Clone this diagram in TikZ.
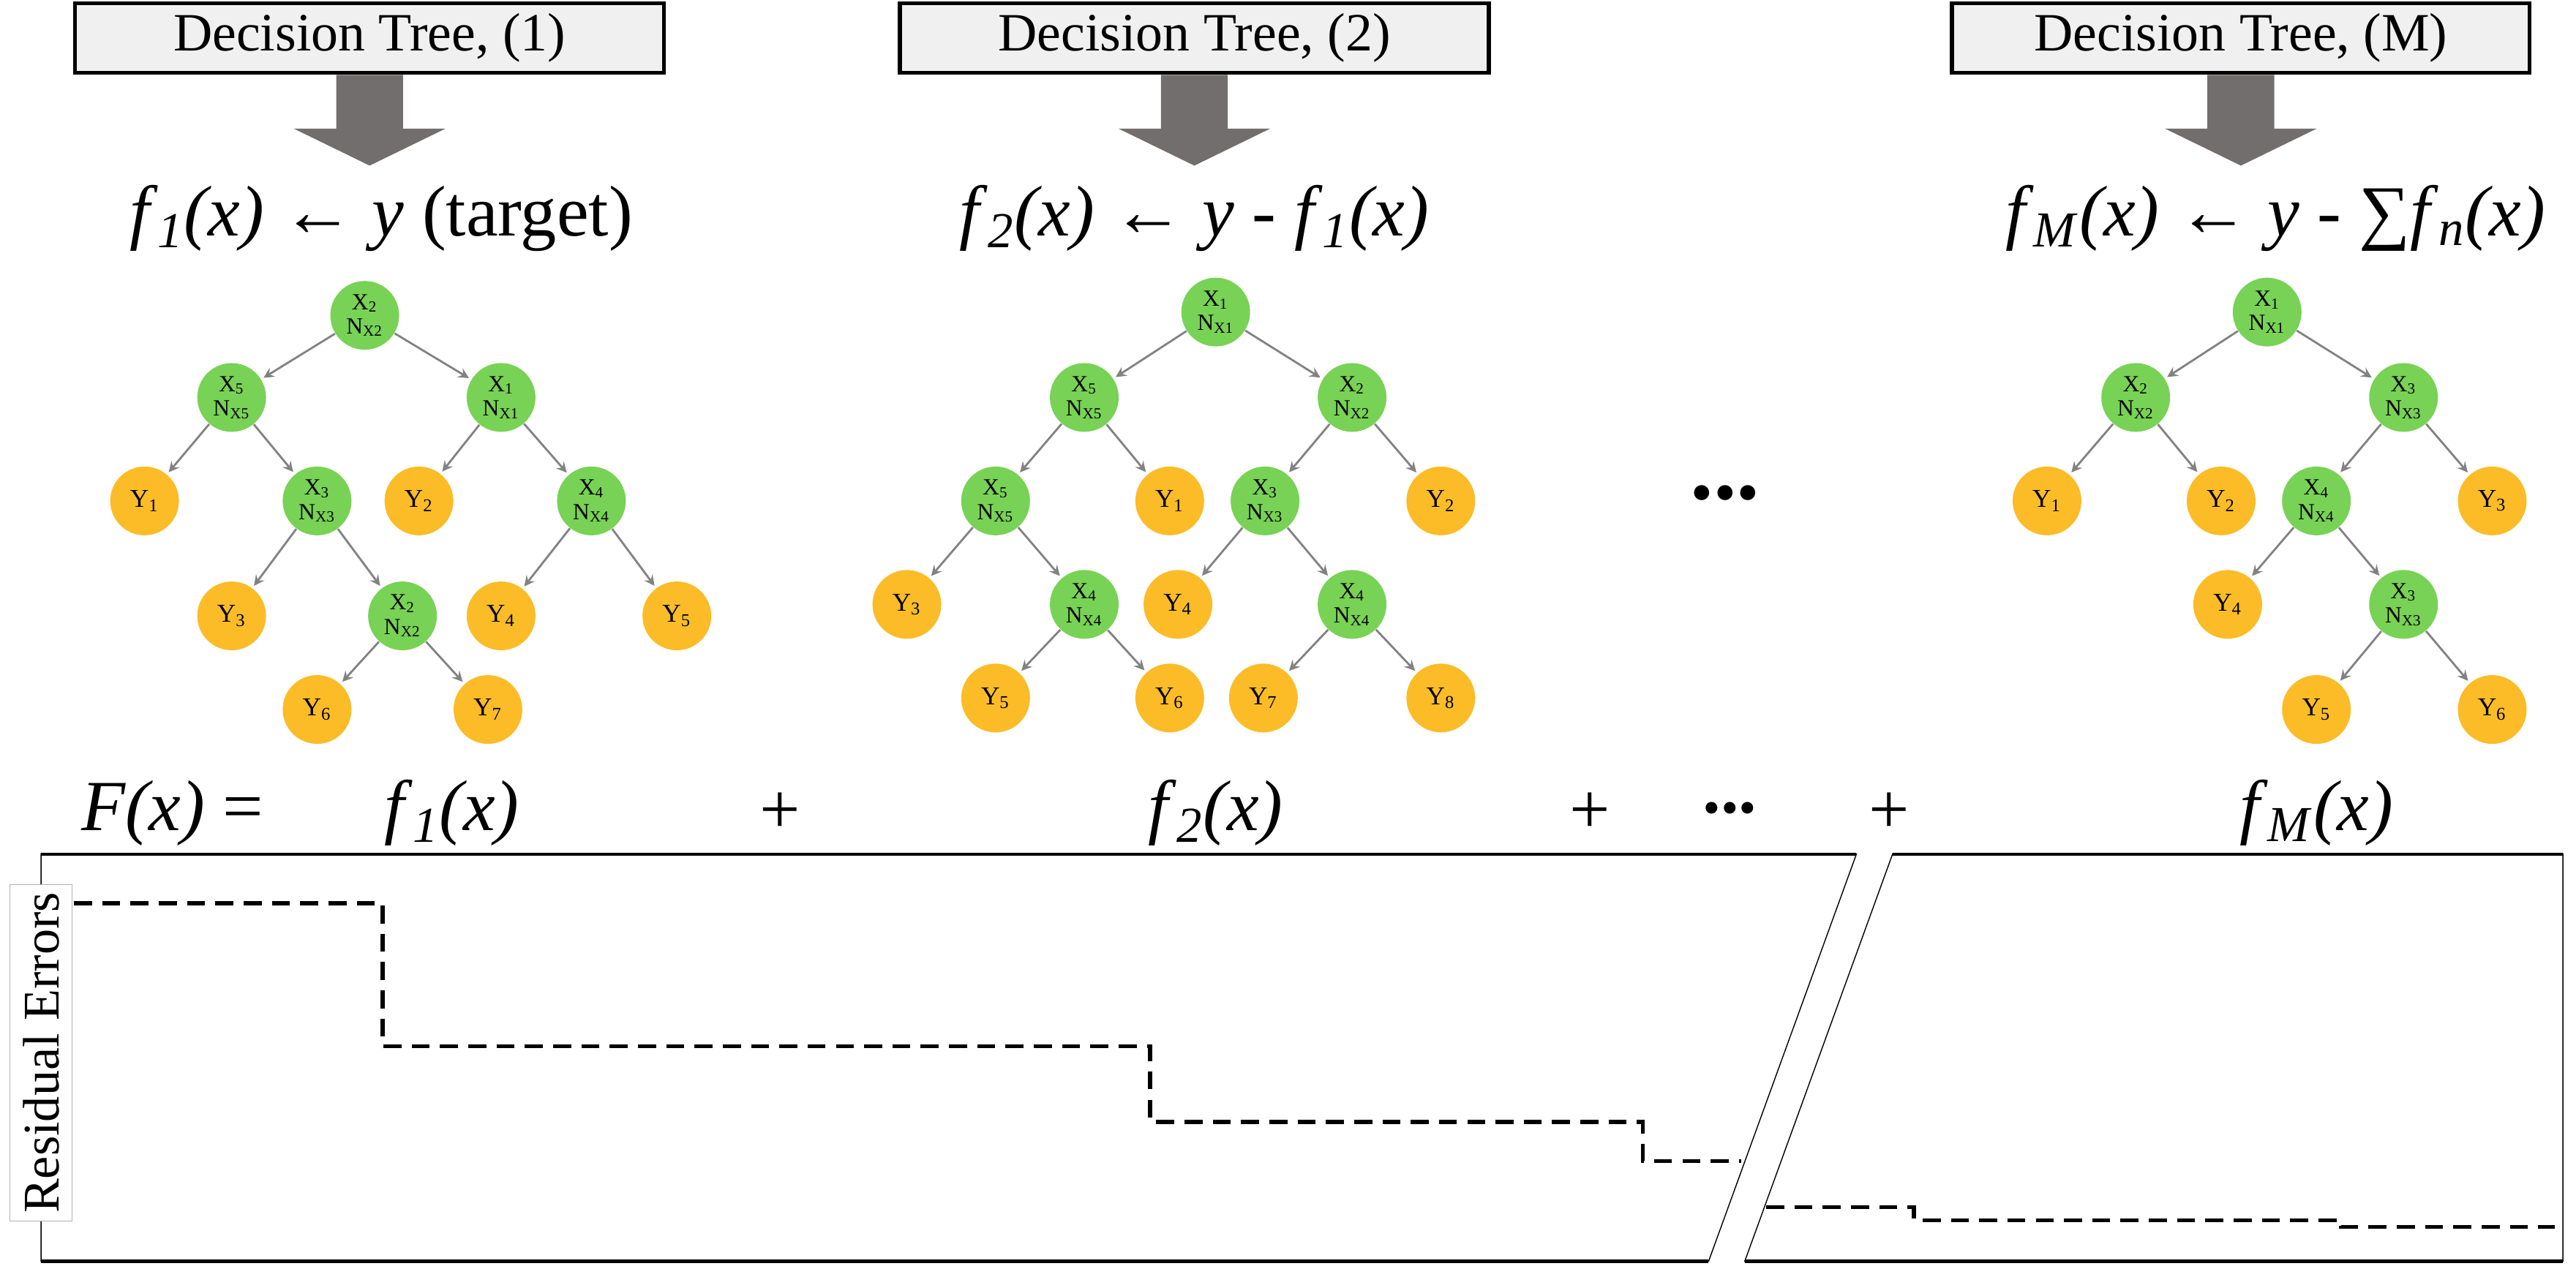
\documentclass[tikz,border=0pt]{standalone}
\usepackage{fontspec}
\setmainfont{Liberation Serif}
\usepackage{tikz}
\usetikzlibrary{shapes,arrows,positioning,calc,backgrounds,fit}
\definecolor{leafgreen}{RGB}{120,210,85}
\definecolor{leaforange}{RGB}{252,188,40}
\definecolor{edgegray}{RGB}{130,130,130}
\definecolor{arrowgray}{RGB}{115,110,110}
\definecolor{boxgray}{RGB}{240,240,240}
\newcommand{\fx}[1]{\textit{f}\textsubscript{\textit{#1}}\textit{(x)}}

\begin{document}
\begin{tikzpicture}[
    x=0.022455cm, y=-0.022455cm,
    split/.style={circle, fill=leafgreen, minimum size=0.94cm, inner sep=0pt, align=center, font=\fontsize{9}{9.5}\selectfont},
    leaf/.style={circle, fill=leaforange, minimum size=0.94cm, inner sep=0pt, font=\fontsize{10}{11}\selectfont},
    edge/.style={->, >=stealth, thick, color=edgegray, shorten >=1pt},
    treebox/.style={rectangle, draw=black, line width=1.5pt, fill=boxgray, minimum width=8.05cm, minimum height=0.95cm, font=\fontsize{21}{25}\selectfont},
    formula/.style={font=\fontsize{28}{34}\selectfont},
    bigarrow/.style={single arrow, draw=none, fill=arrowgray, shape border rotate=270, inner sep=0.45cm, single arrow head extend=0.58cm, single arrow tip angle=128, minimum height=1.24cm},
    residual/.style={dash pattern=on 7pt off 4pt, line width=1.6pt}
]
\useasboundingbox (0,0) rectangle (1568,777.5);

% Decision tree boxes
\node[treebox] (dt1) at (225,23) {Decision Tree, (1)};
\node[treebox] (dt2) at (727,23) {Decision Tree, (2)};
\node[treebox, minimum width=7.9cm] (dtm) at (1364,23) {Decision Tree, (M)};

% Block arrows
\foreach \b in {dt1, dt2, dtm}
    \node[bigarrow, below=0pt of \b.south, anchor=tail] (arr\b) {};

% Update rules
\node[formula] (rule1) at (232,133) {\fx{1} ← \textit{y} (target)};
\node[formula] (rule2) at (727,133) {\fx{2} ← \textit{y} - \fx{1}};
\node[formula] (rulem) at (1385,133) {\fx{M} ← \textit{y} - ∑\fx{n}};

% Tree 1
\node[split] (a0) at (222,192) {X\textsubscript{2}\\N\textsubscript{X2}};
\node[split] (a1) at (141,242) {X\textsubscript{5}\\N\textsubscript{X5}};
\node[split] (a2) at (305,242) {X\textsubscript{1}\\N\textsubscript{X1}};
\node[leaf] (ay1) at (88,305) {Y\textsubscript{1}};
\node[split] (a3) at (193,305) {X\textsubscript{3}\\N\textsubscript{X3}};
\node[leaf] (ay2) at (255,305) {Y\textsubscript{2}};
\node[split] (a4) at (360,305) {X\textsubscript{4}\\N\textsubscript{X4}};
\node[leaf] (ay3) at (141,375) {Y\textsubscript{3}};
\node[split] (a5) at (245,375) {X\textsubscript{2}\\N\textsubscript{X2}};
\node[leaf] (ay4) at (305,375) {Y\textsubscript{4}};
\node[leaf] (ay5) at (412,375) {Y\textsubscript{5}};
\node[leaf] (ay6) at (193,432) {Y\textsubscript{6}};
\node[leaf] (ay7) at (297,432) {Y\textsubscript{7}};
\foreach \p/\c in {a0/a1, a0/a2, a1/ay1, a1/a3, a2/ay2, a2/a4, a3/ay3, a3/a5, a4/ay4, a4/ay5, a5/ay6, a5/ay7}
    \draw[edge] (\p) -- (\c);

% Tree 2
\node[split] (b0) at (740,190) {X\textsubscript{1}\\N\textsubscript{X1}};
\node[split] (b1) at (660,242) {X\textsubscript{5}\\N\textsubscript{X5}};
\node[split] (b2) at (823,242) {X\textsubscript{2}\\N\textsubscript{X2}};
\node[split] (b3) at (606,305) {X\textsubscript{5}\\N\textsubscript{X5}};
\node[leaf] (by1) at (712,305) {Y\textsubscript{1}};
\node[split] (b4) at (770,305) {X\textsubscript{3}\\N\textsubscript{X3}};
\node[leaf] (by2) at (877,305) {Y\textsubscript{2}};
\node[leaf] (by3) at (552,368) {Y\textsubscript{3}};
\node[split] (b5) at (660,368) {X\textsubscript{4}\\N\textsubscript{X4}};
\node[leaf] (by4) at (717,368) {Y\textsubscript{4}};
\node[split] (b6) at (823,368) {X\textsubscript{4}\\N\textsubscript{X4}};
\node[leaf] (by5) at (606,425) {Y\textsubscript{5}};
\node[leaf] (by6) at (712,425) {Y\textsubscript{6}};
\node[leaf] (by7) at (769,425) {Y\textsubscript{7}};
\node[leaf] (by8) at (877,425) {Y\textsubscript{8}};
\foreach \p/\c in {b0/b1, b0/b2, b1/b3, b1/by1, b2/b4, b2/by2, b3/by3, b3/b5, b4/by4, b4/b6, b5/by5, b5/by6, b6/by7, b6/by8}
    \draw[edge] (\p) -- (\c);

% Tree M
\node[split] (m0) at (1380,190) {X\textsubscript{1}\\N\textsubscript{X1}};
\node[split] (m1) at (1300,242) {X\textsubscript{2}\\N\textsubscript{X2}};
\node[split] (m2) at (1463,242) {X\textsubscript{3}\\N\textsubscript{X3}};
\node[leaf] (my1) at (1246,305) {Y\textsubscript{1}};
\node[leaf] (my2) at (1352,305) {Y\textsubscript{2}};
\node[split] (m3) at (1410,305) {X\textsubscript{4}\\N\textsubscript{X4}};
\node[leaf] (my3) at (1517,305) {Y\textsubscript{3}};
\node[leaf] (my4) at (1356,368) {Y\textsubscript{4}};
\node[split] (m4) at (1463,368) {X\textsubscript{3}\\N\textsubscript{X3}};
\node[leaf] (my5) at (1410,432) {Y\textsubscript{5}};
\node[leaf] (my6) at (1517,432) {Y\textsubscript{6}};
\foreach \p/\c in {m0/m1, m0/m2, m1/my1, m1/my2, m2/m3, m2/my3, m3/my4, m3/m4, m4/my5, m4/my6}
    \draw[edge] (\p) -- (\c);

% Ellipsis between trees
\node[font=\fontsize{36}{36}\selectfont\bfseries] (gap) at (1050,300) {...};

% Sum row
\node[formula] (sumF) at (105,495) {\textit{F(x)} =};
\node[formula] (sum1) at (275,495) {\fx{1}};
\node[formula] (plus1) at (475,495) {+};
\node[formula] (sum2) at (740,495) {\fx{2}};
\node[formula] (plus2) at (968,495) {+};
\node[formula] (sumdots) at (1053,492) {\textbf{...}};
\node[formula] (plus3) at (1150,495) {+};
\node[formula] (summ) at (1410,495) {\fx{M}};

% Residual panels
\draw[thin] (25,520) -- (1130,520) -- (1040,768) -- (25,768) -- cycle;
\draw[thin] (1152,520) -- (1560,520) -- (1560,768) -- (1062,768) -- cycle;
\draw[line width=1.2pt] (25,520) -- (1130,520) (1152,520) -- (1560,520) (25,768) -- (1040,768) (1062,768) -- (1560,768);
\node[draw=gray!60, fill=white, rotate=90, minimum width=4.6cm, minimum height=0.85cm, inner sep=1pt, font=\fontsize{20}{24}\selectfont] (reslabel) at (25,641) {Residual Errors};

% Residual error steps
\draw[residual] (45,550) -- (233,550) -- (233,637) -- (700,637) -- (700,683) -- (1000,683) -- (1000,707) -- (1060,707);
\draw[residual] (1075,735) -- (1165,735) -- (1165,743) -- (1425,743) -- (1425,747) -- (1555,747);

\end{tikzpicture}
\end{document}
